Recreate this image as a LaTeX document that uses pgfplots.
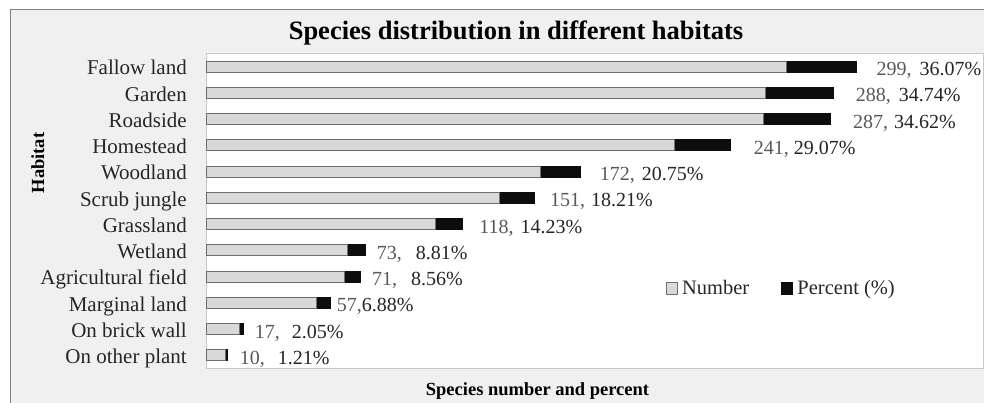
\documentclass[border=0pt]{standalone}
\usepackage{fontspec}
\setmainfont{Liberation Serif}
\usepackage{pgfplots}
\usepackage{pgfplotstable}
\pgfplotsset{compat=1.18}
\definecolor{numfill}{HTML}{D9D9D9}
\definecolor{numedge}{HTML}{6E6E6E}
\definecolor{pctfill}{HTML}{0D0D0D}
\definecolor{bgc}{HTML}{F0F0F0}
\definecolor{framec}{HTML}{7F7F7F}
\definecolor{axc}{HTML}{C8C8C8}
\definecolor{lblgray}{HTML}{595959}
\definecolor{lbldark}{HTML}{262626}

\pgfplotstableread{
idx number percent
0 10 1.21
1 17 2.05
2 57 6.88
3 71 8.56
4 73 8.81
5 118 14.23
6 151 18.21
7 172 20.75
8 241 29.07
9 287 34.62
10 288 34.74
11 299 36.07
}\datatable

\newcommand{\vl}[5]{\node[anchor=base west, inner sep=0pt, yshift=-9pt, font=\fontsize{20}{24}\selectfont] at (axis cs:#1,#2) {\textcolor{lblgray}{#3,}\hspace{#4pt}\textcolor{lbldark}{#5\%}};}

\begin{document}
\begin{tikzpicture}
\useasboundingbox (0pt,0pt) rectangle (984pt,402pt);
\clip (0pt,0pt) rectangle (984pt,402pt);
\draw[framec, fill=bgc, line width=1pt] (10pt,-10pt) rectangle (1000pt,392pt);
\begin{axis}[
  at={(206pt,33.5pt)}, anchor=south west,
  scale only axis, width=777pt, height=315pt,
  xmin=0, xmax=400, ymin=-0.5, ymax=11.5,
  xbar stacked, bar width=11pt,
  xtick=\empty, ytick={0,...,11},
  yticklabels={On other plant, On brick wall, Marginal land, Agricultural field, Wetland, Grassland, Scrub jungle, Woodland, Homestead, Roadside, Garden, Fallow land},
  major tick length=0pt,
  yticklabel style={anchor=mid east, inner sep=0pt, xshift=-19pt, yshift=-6pt, font=\fontsize{21}{25}\selectfont, text=lbldark},
  axis line style={axc, line width=0.8pt},
  axis background/.style={fill=white},
  clip=false,
  legend columns=2,
  legend style={at={(axis cs:236.6,2.57)}, anchor=west, draw=none, fill=none,
    inner sep=0pt, outer sep=0pt, nodes={inner sep=0pt},
    font=\fontsize{20.5}{24}\selectfont, text=lbldark,
    /tikz/every odd column/.append style={column sep=4.7pt},
    /tikz/every even column/.append style={column sep=31.7pt}},
]
\addplot[fill=numfill, draw=numedge, line width=0.8pt,
  legend image code/.code={\draw[fill=numfill, draw=numedge, line width=0.8pt] (0pt,-6pt) rectangle (11pt,6pt);}]
  table[x=number, y=idx] {\datatable};
\addlegendentry{Number}
\addplot[fill=pctfill, draw=pctfill, line width=0.8pt,
  legend image code/.code={\draw[fill=pctfill, draw=pctfill] (0pt,-6pt) rectangle (11pt,6pt);}]
  table[x=percent, y=idx] {\datatable};
\addlegendentry{Percent (\%)}

\vl{345.1}{11}{299}{8}{36.07}
\vl{334.5}{10}{288}{8}{34.74}
\vl{333.0}{9}{287}{6}{34.62}
\vl{281.9}{8}{241}{5}{29.07}
\vl{202.6}{7}{172}{7}{20.75}
\vl{177.0}{6}{151}{6}{18.21}
\vl{140.6}{5}{118}{7}{14.23}
\vl{87.8}{4}{73}{14}{8.81}
\vl{85.4}{3}{71}{14}{8.56}
\vl{67.3}{2}{57}{0}{6.88}
\vl{25.1}{1}{17}{12}{2.05}
\vl{17.3}{0}{10}{13}{1.21}
\end{axis}
\node[anchor=base, font=\bfseries\fontsize{26.5}{30}\selectfont, text=black] at (516pt,362.5pt) {Species distribution in different habitats};
\node[anchor=base, rotate=90, font=\bfseries\fontsize{18.5}{22}\selectfont, text=black] at (44pt,239pt) {Habitat};
\node[anchor=base, font=\bfseries\fontsize{18.5}{22}\selectfont, text=black] at (537.5pt,7pt) {Species number and percent};
\end{tikzpicture}
\end{document}
